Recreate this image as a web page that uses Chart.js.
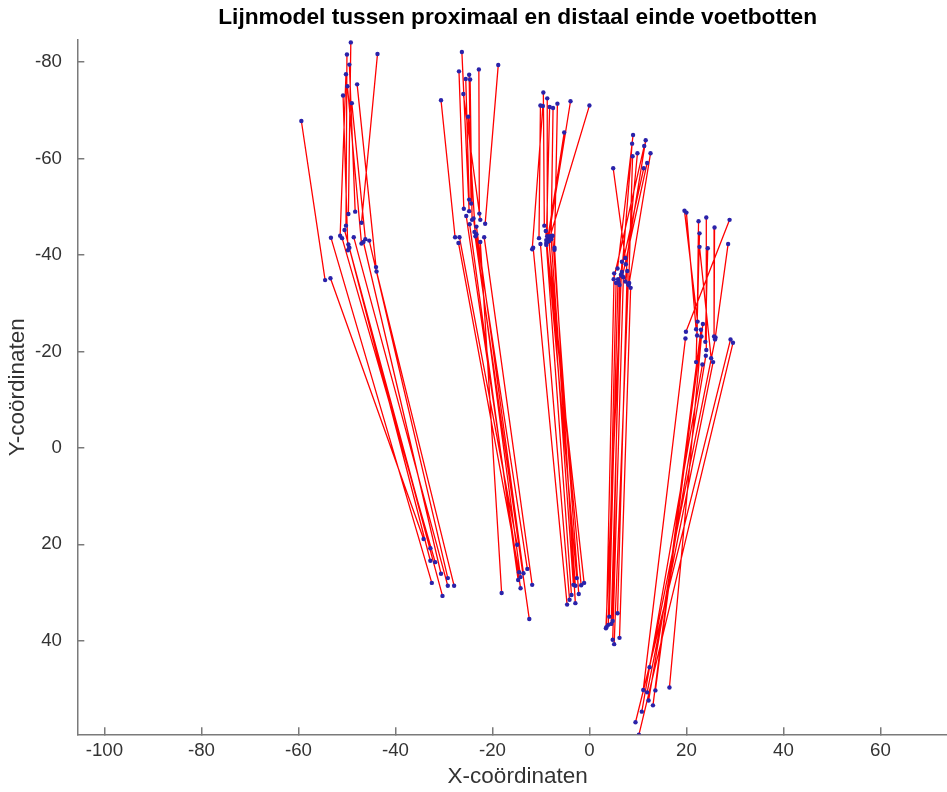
<!DOCTYPE html>
<html>
<head>
<meta charset="utf-8">
<script src="https://cdn.jsdelivr.net/npm/chart.js@4/dist/chart.umd.min.js"></script>
<style>
  html, body { margin: 0; padding: 0; background: #fff; overflow: hidden; }
</style>
</head>
<body>
<canvas id="bones" width="1036" height="792"></canvas>
<script>
// five toes, ten feet each (toe 1 .. toe 5 in blocks of ten)
// tip = distal end of the toe bone, up = its proximal end,
// lo = distal end of the metatarsal, base = its proximal end
const tipX = [-59.4, -49.2, -50.0, -43.7, -49.5, -50.2, -47.9, -49.9, -50.8, -49.0,
              -30.6, -26.3, -26.9, -24.8, -25.5, -24.6, -22.8, -18.8, -26.0, -25.0,
              -9.5, -8.7, -10.1, -9.6, -8.2, -7.5, -6.6, -3.9, 0.0, -5.2,
              4.9, 9.0, 8.8, 11.6, 11.3, 9.9, 8.9, 12.6, 11.9, 11.2,
              19.6, 20.0, 22.5, 24.1, 25.8, 28.9, 22.7, 22.7, 24.4, 28.6];
const tipY = [-67.8, -84.1, -81.6, -81.7, -79.5, -77.5, -75.4, -75.0, -73.1, -71.5,
              -72.1, -82.1, -78.1, -77.4, -76.5, -76.4, -78.5, -79.4, -73.4, -68.7,
              -73.7, -72.5, -71.0, -70.9, -70.7, -70.5, -71.4, -71.9, -71.0, -65.4,
              -58.0, -64.9, -63.1, -63.8, -62.6, -61.1, -60.5, -61.1, -59.1, -58.0,
              -49.2, -48.8, -47.0, -47.8, -45.7, -47.3, -44.5, -41.7, -41.4, -42.3];
const upX = [-54.5, -49.7, -50.2, -47.0, -48.3, -51.4, -44.0, -47.0, -49.8, -46.2,
             -27.7, -24.8, -25.9, -24.4, -24.8, -24.2, -22.7, -21.5, -22.5, -23.5,
             -9.3, -8.7, -10.4, -11.8, -8.9, -7.9, -7.2, -8.5, -8.1, -8.7,
             7.4, 5.8, 6.7, 7.5, 5.0, 7.4, 8.1, 8.2, 6.8, 6.0,
             22.3, 22.0, 22.2, 24.1, 25.7, 19.9, 22.0, 25.1, 23.9, 25.9];
const upY = [-34.8, -48.5, -46.1, -46.7, -49.0, -44.0, -37.5, -42.4, -41.0, -43.3,
             -43.7, -49.1, -49.6, -50.7, -51.5, -47.3, -48.6, -46.5, -47.3, -43.9,
             -46.1, -43.9, -43.5, -41.2, -42.1, -43.6, -41.1, -43.1, -43.9, -42.7,
             -39.4, -37.2, -36.5, -38.1, -35.0, -34.5, -33.8, -34.2, -35.6, -34.4,
             -26.2, -24.6, -23.3, -20.3, -23.1, -24.1, -17.8, -18.6, -22.0, -22.5];
const loX = [-53.4, -50.5, -53.3, -48.6, -49.7, -51.0, -43.9, -46.6, -49.5, -45.4,
             -26.8, -27.0, -25.4, -24.7, -23.9, -23.3, -23.3, -21.7, -22.5, -23.7,
             -9.0, -8.4, -10.1, -11.6, -8.9, -7.6, -7.2, -8.3, -7.9, -8.9,
             6.7, 5.1, 6.5, 7.8, 5.9, 6.2, 8.5, 8.0, 7.0, 5.5,
             23.4, 23.0, 23.1, 24.0, 29.1, 19.8, 23.3, 25.5, 26.0, 29.6];
const loY = [-35.2, -45.2, -43.6, -43.7, -42.2, -43.5, -36.6, -42.7, -41.5, -43.0,
             -43.7, -42.5, -48.1, -46.4, -47.6, -45.9, -44.3, -43.7, -42.7, -44.8,
             -45.0, -43.4, -42.3, -41.5, -42.5, -44.0, -41.5, -42.9, -43.3, -43.1,
             -38.6, -36.2, -35.9, -36.7, -35.0, -33.8, -33.2, -34.0, -35.4, -34.2,
             -25.7, -24.5, -23.1, -19.1, -22.5, -22.7, -17.3, -17.8, -22.9, -21.8];
const baseX = [-34.2, -32.8, -32.5, -29.2, -32.8, -31.8, -27.9, -30.6, -30.3, -29.2,
               -14.9, -14.5, -14.2, -14.7, -14.2, -13.6, -12.8, -11.8, -18.1, -12.4,
               -2.6, -1.7, -4.1, -4.6, -3.7, -2.2, -2.9, -3.3, -2.9, -1.1,
               3.4, 3.5, 4.5, 5.8, 4.1, 4.8, 6.2, 5.1, 4.8, 3.9,
               13.6, 13.1, 16.5, 12.2, 9.5, 11.1, 10.8, 11.9, 12.4, 10.2];
const baseY = [18.9, 20.8, 28.0, 28.6, 23.4, 23.7, 28.6, 26.1, 30.7, 27.0,
               20.1, 25.8, 29.1, 27.4, 26.8, 26.0, 25.1, 28.4, 30.1, 35.5,
               27.0, 28.5, 31.5, 32.5, 30.5, 30.3, 32.2, 28.4, 28.6, 28.0,
               37.4, 37.2, 36.5, 34.3, 35.0, 35.9, 39.4, 40.7, 39.8, 36.7,
               50.3, 53.4, 49.7, 52.4, 56.9, 50.2, 54.7, 50.7, 45.5, 59.5];

const xLimits = [-105.6, 76.0];
const yLimits = [-84.6, 59.4];

// line segments, split by empty points
const segments = [];
const dots = [];
tipX.forEach((_, i) => {
    segments.push({x: tipX[i], y: tipY[i]}, {x: upX[i], y: upY[i]}, {x: null, y: null});
    segments.push({x: loX[i], y: loY[i]}, {x: baseX[i], y: baseY[i]}, {x: null, y: null});
    dots.push({x: tipX[i], y: tipY[i]}, {x: upX[i], y: upY[i]},
              {x: loX[i], y: loY[i]}, {x: baseX[i], y: baseY[i]});
});

const axisGrey = '#7a7a7a';
const textGrey = '#333333';
const fontFamily = 'Liberation Sans, Arial, sans-serif';

new Chart(document.getElementById('bones').getContext('2d'), {
    type: 'scatter',
    data: {
        datasets: [
            {
                data: dots,
                showLine: false,
                pointRadius: 2.2,
                pointBackgroundColor: '#2a22aa',
                pointBorderWidth: 0
            },
            {
                data: segments,
                showLine: true,
                spanGaps: false,
                borderColor: '#ff0000',
                borderWidth: 1.3,
                pointRadius: 0
            }
        ]
    },
    options: {
        responsive: false,
        devicePixelRatio: 1,
        animation: false,
        layout: { padding: { left: 0, right: 78, top: 0, bottom: 0 } },
        plugins: {
            legend: { display: false },
            tooltip: { enabled: false }
        },
        scales: {
            // top axis only carries the title, so it is centred over the plot like in MATLAB
            top: {
                type: 'linear',
                position: 'top',
                min: xLimits[0],
                max: xLimits[1],
                afterFit: s => { s.height = 40; },
                ticks: { display: false },
                grid: { display: false },
                border: { display: false },
                title: {
                    display: true,
                    text: 'Lijnmodel tussen proximaal en distaal einde voetbotten',
                    color: '#000',
                    font: { family: fontFamily, size: 22.7, weight: 'bold', lineHeight: 1.2 },
                    padding: { top: 4.4, bottom: 0 }
                }
            },
            x: {
                type: 'linear',
                min: xLimits[0],
                max: xLimits[1],
                afterFit: s => { s.height = 57.7; },
                ticks: {
                    stepSize: 20,
                    includeBounds: false,
                    padding: 12.7,
                    color: textGrey,
                    font: { family: fontFamily, size: 18.7 }
                },
                grid: { drawOnChartArea: false, drawTicks: true, tickLength: -7, color: axisGrey, lineWidth: 1.5 },
                border: { color: axisGrey, width: 1.5 },
                title: {
                    display: true,
                    text: 'X-coördinaten',
                    color: textGrey,
                    font: { family: fontFamily, size: 22.5, lineHeight: 1.2 },
                    padding: { top: 0, bottom: 1.6 }
                }
            },
            y: {
                type: 'linear',
                reverse: true,
                min: yLimits[0],
                max: yLimits[1],
                afterFit: s => { s.width = 77.3; },
                ticks: {
                    stepSize: 20,
                    includeBounds: false,
                    padding: 22.3,
                    color: textGrey,
                    font: { family: fontFamily, size: 18.7 }
                },
                grid: { drawOnChartArea: false, drawTicks: true, tickLength: -7, color: axisGrey, lineWidth: 1.5 },
                border: { color: axisGrey, width: 1.5 },
                title: {
                    display: true,
                    text: 'Y-coördinaten',
                    color: textGrey,
                    font: { family: fontFamily, size: 22.5, lineHeight: 1.2 },
                    padding: { top: 4.6, bottom: 0 }
                }
            }
        }
    }
});
</script>
</body>
</html>
